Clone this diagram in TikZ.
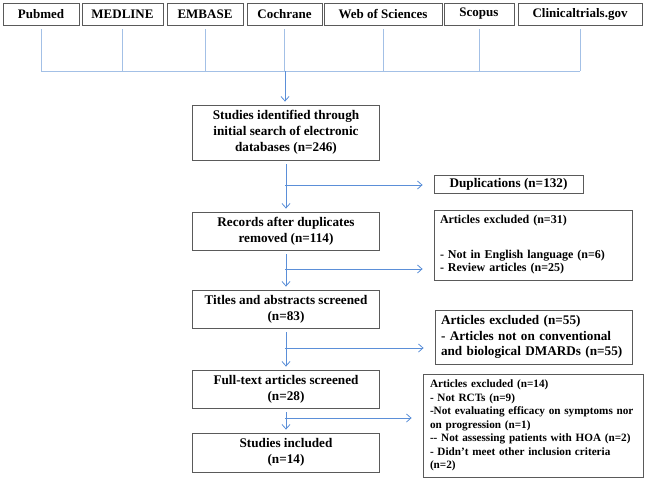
\documentclass[tikz,border=0pt]{standalone}
\usepackage{fontspec}
\setmainfont{Liberation Serif}
\usetikzlibrary{positioning,calc,arrows.meta}
\definecolor{arrblue}{HTML}{5B8FD8}
\definecolor{busblue}{HTML}{A3C0E6}
\definecolor{boxgray}{HTML}{5A5A5A}

\begin{document}
\begin{tikzpicture}[x=1pt, y=-1pt, font=\bfseries\fontsize{13.2}{15.8}\selectfont,
  db/.style={draw=boxgray, line width=0.8pt, minimum height=22pt, inner sep=0pt, font=\bfseries\fontsize{13}{15}\selectfont},
  stepbox/.style={draw=boxgray, line width=0.8pt, minimum width=187pt, align=center, inner sep=0pt},
  exbox/.style={draw=boxgray, line width=0.8pt, align=left, inner xsep=6pt, inner ysep=0pt},
  feed/.style={draw=busblue, line width=0.8pt},
  link/.style={draw=arrblue, line width=0.8pt, -{Straight Barb[length=4.5pt,width=8pt]}, shorten >=3pt}]
\useasboundingbox (0,0) rectangle (645,479);
% databases on top, joined by one bus
\foreach \n/\x/\w/\t in {pub/41/76/Pubmed, med/122.5/81/MEDLINE, emb/205/76/EMBASE,
    coc/284.5/75/Cochrane, wos/383/118/Web of Sciences, sco/479/70/Scopus,
    cli/580/124/Clinicaltrials.gov}
  \node[db, minimum width=\w pt] (\n) at (\x,14) {\t};
\coordinate (bus) at (285,71);
\foreach \n in {pub,med,emb,coc,wos,sco,cli}
  \draw[feed, shorten <=4pt] (\n.south) -- (\n.south |- bus);
\draw[feed] (pub.south |- bus) -- (cli.south |- bus);
% main column
\node[stepbox, minimum height=55pt] (s1) at (286,132.5) {Studies identified through\\initial search of electronic\\databases (n=246)};
\node[stepbox, minimum height=38pt] (s2) at (286,231) {Records after duplicates\\removed (n=114)};
\node[stepbox, minimum height=38pt] (s3) at (286,309) {Titles and abstracts screened\\(n=83)};
\node[stepbox, minimum height=38pt] (s4) at (286,389) {Full-text articles screened\\(n=28)};
\node[stepbox, minimum height=39pt] (s5) at (286,452.5) {Studies included\\(n=14)};
\draw[link] (bus) -- (bus |- s1.north);
\foreach \a/\b in {s1/s2, s2/s3, s3/s4, s4/s5}
  \draw[link, shorten <=4pt] (\a) -- (\b);
% exclusions on the right
\node[exbox, align=center, inner xsep=0pt, minimum width=149pt, minimum height=18pt] (dup) at (508.5,184) {Duplications (n=132)};
\node[exbox, text width=186pt, minimum height=70pt, font=\bfseries\fontsize{12}{13}\selectfont] (ex1) at (533,245)
  {Articles excluded (n=31)\\[22pt]- Not in English language (n=6)\\- Review articles (n=25)};
\node[exbox, text width=185pt, minimum height=54pt] (ex2) at (533.5,337)
  {Articles excluded (n=55)\\- Articles not on conventional\\and biological DMARDs (n=55)};
\node[exbox, text width=206pt, inner xsep=7pt, minimum height=103pt, font=\bfseries\fontsize{11.2}{13.5}\selectfont] (ex3) at (533,425.5)
  {Articles excluded (n=14)\\- Not RCTs (n=9)\\-Not evaluating efficacy on symptoms nor\\on progression (n=1)\\{-}{-} Not assessing patients with HOA (n=2)\\- Didn’t meet other inclusion criteria\\(n=2)};
\foreach \y/\tgt in {185/dup, 269/ex1, 348/ex2, 418/ex3} {
  \coordinate (br) at (285,\y);
  \draw[link, shorten >=11pt] (br) -- (br -| \tgt.west);}
\end{tikzpicture}
\end{document}
